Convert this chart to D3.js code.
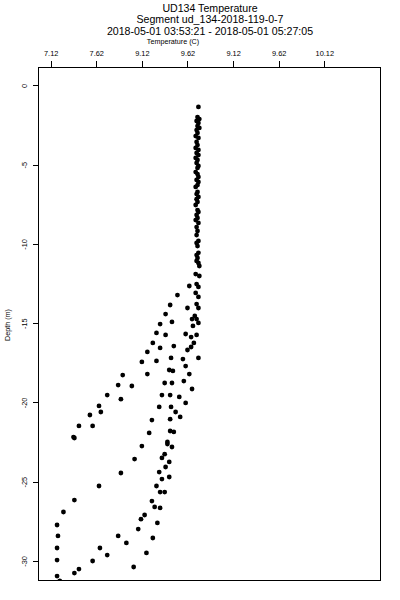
<!DOCTYPE html>
<html>
<head>
<meta charset="utf-8">
<script src="https://cdn.jsdelivr.net/npm/d3@7"></script>
<style>
  body { margin: 0; background: #fff; }
  text { font-family: "Liberation Sans", Arial, sans-serif; fill: #000; }
</style>
</head>
<body>
<div id="chart-area"></div>
<script>
/* UD134 temperature profile */

var titleLines = ["UD134 Temperature", "Segment ud_134-2018-119-0-7",
    "2018-05-01 03:53:21 - 2018-05-01 05:27:05"];

var xTicks = [7.12, 7.62, 8.12, 8.62, 9.12, 9.62, 10.12];
var xTickLabels = ["7.12", "7.62", "9.12", "9.62", "9.12", "9.62", "10.12"];
var yTicks = [0, -5, -10, -15, -20, -25, -30];

// well mixed upper column
var upperDepth = [-1.35, -1.99, -2.12, -2.24, -2.36, -2.56, -2.68, -2.81, -2.99, -3.19,
    -3.31, -3.56, -3.76, -3.94, -4.07, -4.26, -4.39, -4.57, -4.70, -4.89,
    -5.08, -5.20, -5.46, -5.59, -5.77, -5.96, -6.09, -6.28, -6.40, -6.72,
    -6.85, -7.03, -7.17, -7.35, -7.54, -7.86, -7.98, -8.17, -8.36, -8.49,
    -8.67, -8.93, -9.18, -9.44, -9.81, -9.93, -10.13, -10.56, -10.70, -10.88,
    -11.07, -11.20, -11.39, -11.90, -12.02, -12.53, -12.71, -13.09, -13.34, -13.79,
    -14.04, -14.54, -14.74, -14.98, -15.17, -15.74, -16.24, -17.19];
var upperTemp = [8.74, 8.73, 8.75, 8.72, 8.74, 8.73, 8.75, 8.72, 8.73, 8.71,
    8.74, 8.72, 8.73, 8.71, 8.74, 8.72, 8.74, 8.71, 8.73, 8.72,
    8.74, 8.73, 8.71, 8.73, 8.74, 8.72, 8.74, 8.73, 8.71, 8.73,
    8.72, 8.74, 8.72, 8.73, 8.71, 8.73, 8.74, 8.72, 8.73, 8.71,
    8.74, 8.72, 8.73, 8.72, 8.74, 8.72, 8.73, 8.74, 8.72, 8.73,
    8.72, 8.74, 8.75, 8.71, 8.75, 8.72, 8.74, 8.71, 8.74, 8.72,
    8.74, 8.70, 8.72, 8.74, 8.68, 8.72, 8.69, 8.74];

// thermocline region
var midDepth = [-12.65, -13.22, -13.85, -14.04, -14.42, -14.74, -15.05, -14.92, -15.61, -15.74,
    -15.68, -15.87, -16.24, -16.56, -16.44, -16.50, -16.69, -16.81, -17.44, -17.38,
    -17.19, -17.26, -17.70, -17.95, -18.01, -18.21, -18.21, -18.27, -18.90, -18.96,
    -18.77, -18.77, -18.65, -19.15, -19.53, -19.79, -19.53, -19.53, -19.65, -20.03,
    -20.22, -20.28, -20.28, -20.60, -20.91, -20.79, -20.60, -21.11, -21.05, -21.48,
    -21.48, -21.92, -21.80, -21.86, -22.18, -22.24];
var midTemp = [8.64, 8.51, 8.43, 8.62, 8.38, 8.67, 8.32, 8.45, 8.28, 8.38,
    8.60, 8.66, 8.24, 8.32, 8.47, 8.66, 8.62, 8.18, 8.12, 8.28,
    8.44, 8.57, 8.60, 8.42, 8.46, 8.64, 8.18, 7.91, 7.86, 8.01,
    8.37, 8.45, 8.58, 8.67, 7.74, 7.89, 8.34, 8.43, 8.53, 8.60,
    7.65, 8.31, 8.44, 8.49, 8.54, 7.55, 7.67, 8.23, 8.43, 7.43,
    7.58, 8.20, 8.43, 8.47, 7.37, 7.38];

// deep water
var deepDepth = [-22.75, -23.57, -24.45, -22.49, -22.62, -22.81, -23.26, -23.50, -23.75, -24.07,
    -24.39, -24.70, -24.83, -25.27, -25.27, -25.65, -25.65, -26.16, -26.22, -26.59,
    -26.65, -26.91, -27.10, -27.36, -27.60, -27.73, -27.99, -28.42, -28.42, -28.55,
    -28.86, -29.18, -29.18, -29.49, -29.63, -29.94, -30.00, -30.38, -30.51, -30.76,
    -30.95, -31.25];
var deepTemp = [8.12, 8.04, 7.89, 8.40, 8.40, 8.45, 8.37, 8.34, 8.42, 8.38,
    8.31, 8.42, 8.34, 8.28, 7.65, 8.32, 8.37, 7.38, 8.23, 8.26,
    8.32, 7.26, 8.15, 8.11, 8.29, 7.19, 8.08, 7.20, 7.86, 8.24,
    7.95, 7.19, 7.66, 8.17, 7.74, 7.19, 7.58, 8.03, 7.43, 7.38,
    7.19, 7.22];

var W = 400, H = 600;
var margin = { left: 38, right: 20, top: 67, bottom: 20 };

var svg = d3.select("#chart-area")
    .append("svg")
    .attr("width", W)
    .attr("height", H);

var x = d3.scaleLinear()
    .domain([6.981, 10.731])
    .range([margin.left, W - margin.right]);

var y = d3.scaleLinear()
    .domain([1.167, -31.2])
    .range([margin.top, H - margin.bottom]);

svg.append("clipPath").attr("id", "plotclip")
    .append("rect")
    .attr("x", margin.left).attr("y", margin.top)
    .attr("width", W - margin.left - margin.right)
    .attr("height", H - margin.top - margin.bottom);

// titles
svg.selectAll(".title")
    .data(titleLines)
    .enter()
    .append("text")
    .attr("x", 210)
    .attr("y", function(d, i) { return 12 + i * 11.4; })
    .attr("text-anchor", "middle")
    .style("font-size", "10.6px")
    .text(function(d) { return d; });

svg.append("text")
    .attr("x", 173)
    .attr("y", 43.5)
    .attr("text-anchor", "middle")
    .style("font-size", "7.2px")
    .text("Temperature (C)");

svg.append("text")
    .attr("transform", "translate(10," + 325 + ") rotate(-90)")
    .attr("text-anchor", "middle")
    .style("font-size", "7.2px")
    .text("Depth (m)");

// axes
var xAxis = d3.axisTop(x)
    .tickValues(xTicks)
    .tickSize(6)
    .tickFormat(function(d, i) { return xTickLabels[i]; });

var gx = svg.append("g")
    .attr("transform", "translate(0," + margin.top + ")")
    .call(xAxis);
gx.select(".domain").remove();
gx.selectAll("text")
    .attr("y", -11.5)
    .style("font-size", "7.4px")
    .style("font-family", "'Liberation Sans', Arial, sans-serif");

var yAxis = d3.axisLeft(y)
    .tickValues(yTicks)
    .tickSize(5)
    .tickFormat(function(d) { return String(d); });

var gy = svg.append("g")
    .attr("transform", "translate(" + margin.left + ",0)")
    .call(yAxis);
gy.select(".domain").remove();
gy.selectAll("text")
    .attr("x", 0).attr("y", 0).attr("dy", null)
    .attr("transform", "translate(-11,0) rotate(-90)")
    .attr("text-anchor", "middle")
    .style("font-size", "7.4px")
    .style("font-family", "'Liberation Sans', Arial, sans-serif");
gy.selectAll(".tick line").attr("shape-rendering", "crispEdges");
gx.selectAll(".tick line").attr("shape-rendering", "crispEdges");

// points
var pts = [];
upperDepth.forEach(function(d, i) { pts.push({ depth: d, temp: upperTemp[i] }); });
midDepth.forEach(function(d, i) { pts.push({ depth: d, temp: midTemp[i] }); });
deepDepth.forEach(function(d, i) { pts.push({ depth: d, temp: deepTemp[i] }); });

svg.append("g")
    .attr("clip-path", "url(#plotclip)")
    .selectAll("circle")
    .data(pts)
    .enter()
    .append("circle")
    .attr("cx", function(d) { return x(d.temp); })
    .attr("cy", function(d) { return y(d.depth); })
    .attr("r", 2.4)
    .attr("fill", "#000");

// box
svg.append("rect")
    .attr("x", margin.left + 0.5)
    .attr("y", margin.top + 0.5)
    .attr("width", W - margin.left - margin.right)
    .attr("height", H - margin.top - margin.bottom)
    .attr("fill", "none")
    .attr("stroke", "#000")
    .attr("stroke-width", 1)
    .attr("shape-rendering", "crispEdges");
</script>
</body>
</html>
